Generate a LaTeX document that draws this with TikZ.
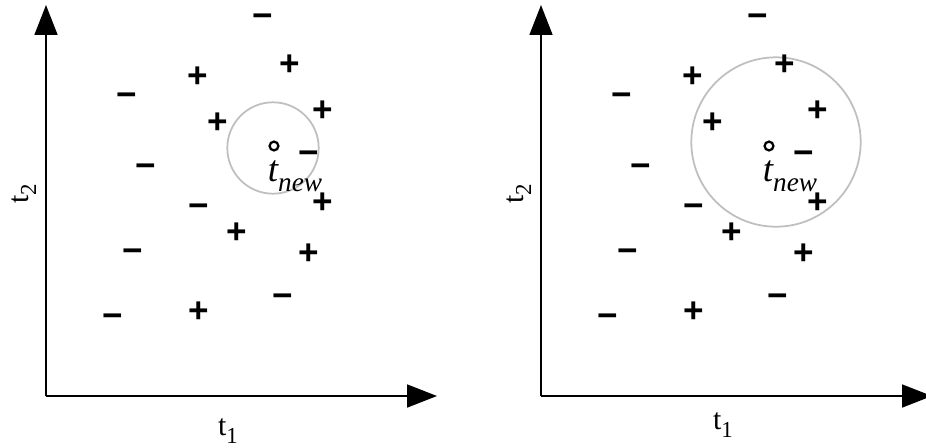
\documentclass[tikz,border=0pt]{standalone}
\usepackage{fontspec}
\setmainfont{Liberation Serif}
\newfontfamily\signfont{Liberation Sans}
\usetikzlibrary{arrows.meta}

\begin{document}
\begin{tikzpicture}[x=0.02cm, y=-0.02cm,
    axis/.style={line width=1.1pt, -{Triangle[length=17pt, width=13pt]}},
    sign/.style={font=\signfont\bfseries\fontsize{20}{20}\selectfont, inner sep=0pt, text height=11.6pt, text depth=-1.6pt},
    axislabel/.style={font=\fontsize{17}{20}\selectfont, inner sep=0pt},
    querylabel/.style={font=\itshape\fontsize{21}{24}\selectfont, inner sep=0pt},
    query/.style={circle, draw, line width=1.3pt, minimum size=5pt, inner sep=0pt},
    neighbourhood/.style={draw=black!25, line width=1pt}
  ]
  \useasboundingbox (0,0) rectangle (926,447);

  % Two panels: same training points, small and large neighbourhood
  \foreach \panel/\off/\cx/\cy/\rad/\ly in {a/0/273/148/45.7/431, b/495/281/142/84.7/425}{
    \begin{scope}[xshift=\off*0.02cm]
      % Axes
      \coordinate (\panel-o) at (46,396);
      \coordinate (\panel-x) at (437,396);
      \coordinate (\panel-y) at (46,5);
      \draw[axis] (\panel-o) -- (\panel-x);
      \draw[axis] (\panel-o) -- (\panel-y);
      \node[axislabel] (\panel-t1) at (228,\ly) {t\raisebox{-0.25em}{\fontsize{13}{13}\selectfont 1}};
      \node[axislabel, rotate=90] (\panel-t2) at (24,194) {t\raisebox{-0.25em}{\fontsize{13}{13}\selectfont 2}};

      % Neighbourhood of the new point
      \node[query] (\panel-new) at (274,146) {};
      \draw[neighbourhood] (\cx,\cy) circle (\rad);
      \node[querylabel] (\panel-newlabel) at (295,176) {t\raisebox{-0.26em}{\fontsize{15.5}{16}\selectfont new}};

      % Labelled training points
      \foreach \i/\px/\py/\s in {1/263/17/m, 2/290/65/p, 3/198/77/p, 4/127/96/m,
          5/323/111/p, 6/218/123/p, 7/309/154/m, 8/146/167/m, 9/323/203/p,
          10/199/207/m, 11/237/233/p, 12/133/252/m, 13/309/254/p,
          14/283/297/m, 15/199/312/p, 16/113/317/m}{
        \if\s p
          \node[sign] (\panel-pt\i) at (\px,\py) {+};
        \else
          \node[sign] (\panel-pt\i) at (\px,\py) {−};
        \fi
      }
    \end{scope}
  }
\end{tikzpicture}
\end{document}
